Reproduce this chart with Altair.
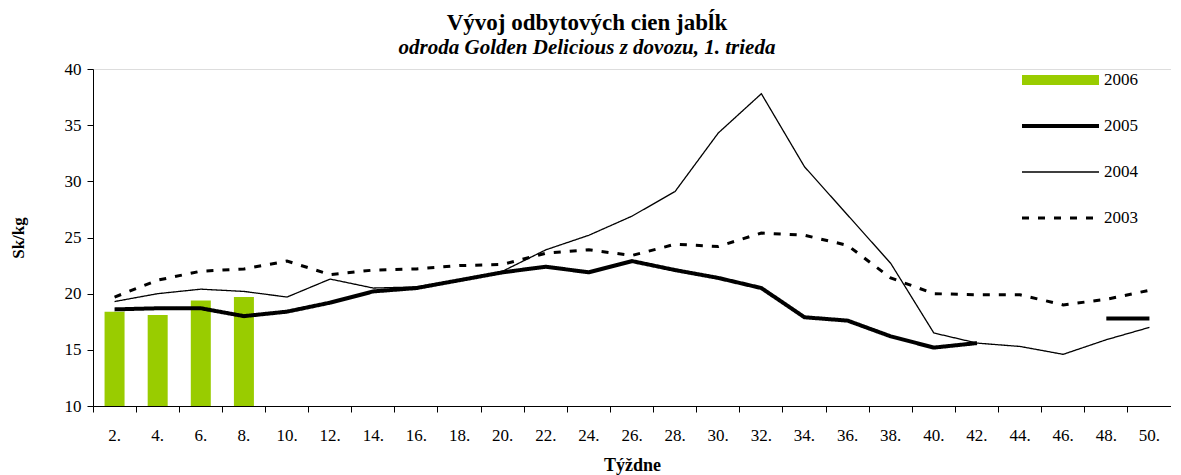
import altair as alt
import pandas as pd

weeks = ["2.", "4.", "6.", "8.", "10.", "12.", "14.", "16.", "18.", "20.", "22.", "24.", "26.",
         "28.", "30.", "32.", "34.", "36.", "38.", "40.", "42.", "44.", "46.", "48.", "50."]
years = ["2006", "2005", "2004", "2003"]

v2006 = [18.4, 18.1, 19.4, 19.7, None, None, None, None, None, None, None, None, None,
         None, None, None, None, None, None, None, None, None, None, None, None]
v2005 = [18.6, 18.7, 18.7, 18.0, 18.4, 19.2, 20.2, 20.5, 21.2, 21.9, 22.4, 21.9, 22.9,
         22.1, 21.4, 20.5, 17.9, 17.6, 16.2, 15.2, 15.6, None, None, 17.8, 17.8]
v2004 = [19.3, 20.0, 20.4, 20.2, 19.7, 21.3, 20.5, 20.6, 21.2, 22.0, 23.9, 25.2, 26.9,
         29.1, 34.3, 37.8, 31.3, 27.0, 22.7, 16.5, 15.6, 15.3, 14.6, 15.9, 17.0]
v2003 = [19.7, 21.2, 22.0, 22.2, 22.9, 21.7, 22.1, 22.2, 22.5, 22.6, 23.6, 23.9, 23.4,
         24.4, 24.2, 25.4, 25.2, 24.3, 21.4, 20.0, 19.9, 19.9, 19.0, 19.5, 20.3]

rows = []
for yr, vals in zip(years, [v2006, v2005, v2004, v2003]):
    for w, v in zip(weeks, vals):
        rows.append({"week": w, "year": yr, "price": v})
df = pd.DataFrame(rows)

FONT = "Liberation Serif"

x = alt.X("week:N", sort=weeks,
          scale=alt.Scale(domain=weeks, paddingInner=0, paddingOuter=0),
          axis=alt.Axis(title="Týždne", labelAngle=0, bandPosition=0, tickSize=6,
                        labelPadding=15, titlePadding=13, labelFontSize=17,
                        titleFontSize=18, titleFontWeight="bold",
                        labelFont=FONT, titleFont=FONT, labelColor="black",
                        titleColor="black", domainColor="black", tickColor="black",
                        grid=False))
y = alt.Y("price:Q",
          scale=alt.Scale(domain=[10, 40], nice=False, zero=False),
          axis=alt.Axis(title="Sk/kg", values=[10, 15, 20, 25, 30, 35, 40], tickSize=6,
                        labelPadding=6, titlePadding=37, labelFontSize=17,
                        titleFontSize=17, titleFontWeight="bold",
                        labelFont=FONT, titleFont=FONT, labelColor="black",
                        titleColor="black", domainColor="black", tickColor="black",
                        grid=False))

leg = alt.Legend(title=None, orient="none", legendX=924, legendY=4,
                 symbolType="stroke", symbolSize=5929, labelFont=FONT,
                 labelFontSize=17, labelColor="black", labelOffset=0,
                 clipHeight=14, rowPadding=29)

color = alt.Color("year:N", sort=years,
                  scale=alt.Scale(type="ordinal", domain=years,
                                  range=["#99CC00", "#000000", "#000000", "#000000"]),
                  legend=leg)
dash = alt.StrokeDash("year:N", sort=years,
                      scale=alt.Scale(type="ordinal", domain=years,
                                      range=[[1, 0], [1, 0], [1, 0], [7, 9]]),
                      legend=leg)
sw = alt.StrokeWidth("year:N", sort=years,
                     scale=alt.Scale(type="ordinal", domain=years, range=[10, 4, 1.3, 3]),
                     legend=leg)

base = alt.Chart(df)

bars = base.transform_filter(alt.datum.year == "2006").mark_bar(size=20, color="#99CC00").encode(
    x=x, y=y, y2=alt.datum(10)
)

lines = base.transform_filter(alt.datum.year != "2006").mark_line(
    invalid="break-paths-show-domains"
).encode(x=x, y=y, color=color, strokeDash=dash, strokeWidth=sw)

chart = alt.layer(bars, lines).properties(
    width=1078, height=337,
    autosize=alt.AutoSizeParams(type="none"),
    padding={"left": 85, "top": 61, "right": 0, "bottom": 70},
    title=alt.Title("Vývoj odbytových cien jabĺk",
                    subtitle="odroda Golden Delicious z dovozu, 1. trieda",
                    anchor="middle", dx=-45, offset=0, dy=-2, font=FONT, fontSize=23,
                    fontWeight="bold", color="black", subtitleFont=FONT,
                    subtitleFontSize=21, subtitleFontStyle="italic",
                    subtitleFontWeight="bold", subtitleColor="black", subtitlePadding=2)
).configure_view(stroke=None).configure(background="white")

chart.save("out.html", embed_options={"renderer": "svg", "actions": False})
